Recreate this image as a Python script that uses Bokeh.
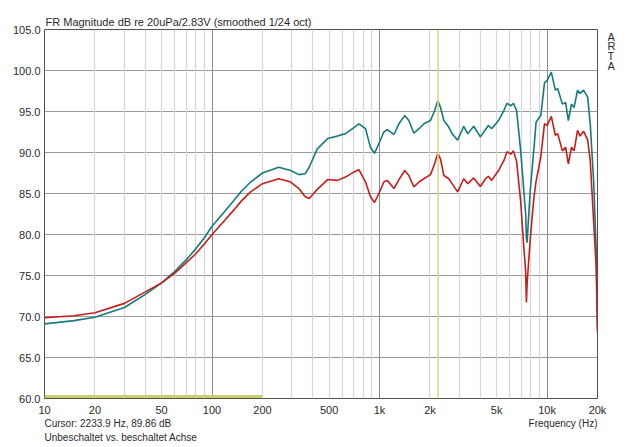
from bokeh.plotting import figure
from bokeh.models import FixedTicker, Grid, Span, NumeralTickFormatter, Range1d
from bokeh.layouts import column, row
from bokeh.core.properties import value
from bokeh.embed import file_html
from bokeh.resources import INLINE

# ---- data ----
freq = [10, 15, 20, 30, 40, 50, 60, 70, 80, 90,
        100, 120, 135, 150, 170, 200, 250, 295, 330, 360,
        380, 425, 490, 560, 626, 700, 753, 825, 883, 933,
        991, 1061, 1110, 1220, 1305, 1414, 1496, 1603, 1720, 1840,
        2015, 2130, 2228, 2312, 2420, 2590, 2710, 2925, 3180, 3360,
        3650, 4000, 4290, 4460, 4670, 5130, 5520, 5770, 6080, 6300,
        6580, 6960, 7260, 7450, 7530, 7600, 7750, 7940, 8350, 8600,
        8930, 9180, 9650, 10020, 10600, 11200, 11570, 12340, 12900, 13400,
        13990, 14500, 15200, 15750, 16500, 17470, 18100, 19000, 19650, 20000]

teal_db = [69.1, 69.5, 69.9, 71.1, 72.7, 74.1, 75.5, 76.9, 78.25, 79.6,
           81.0, 82.9, 84.15, 85.3, 86.4, 87.5, 88.2, 87.8, 87.3, 87.4,
           88.2, 90.45, 91.7, 92.0, 92.3, 93.0, 93.5, 92.9, 90.6, 89.9,
           91.1, 92.5, 92.8, 92.2, 93.5, 94.5, 93.9, 92.35, 92.9, 93.5,
           93.9, 95.1, 96.3, 95.5, 93.9, 93.1, 92.3, 91.5, 93.2, 92.3,
           93.2, 91.9, 92.8, 93.3, 92.9, 93.9, 95.1, 96.0, 95.7, 96.0,
           95.1, 90.2, 85.4, 82.5, 79.5, 79.0, 82.0, 85.4, 90.5, 93.7,
           94.2, 94.5, 98.5, 98.8, 99.8, 97.6, 97.8, 95.9, 96.1, 93.9,
           95.9, 95.5, 97.6, 97.2, 97.6, 96.75, 93.5, 86.2, 78.0, 68.5]

red_db = [69.85, 70.1, 70.45, 71.6, 73.0, 74.1, 75.3, 76.55, 77.65, 78.85,
          80.0, 81.8, 83.0, 84.1, 85.2, 86.2, 86.8, 86.4, 85.6, 84.6,
          84.4, 85.5, 86.7, 86.6, 87.0, 87.6, 87.9, 86.4, 84.6, 83.9,
          85.0, 86.4, 86.6, 85.6, 86.7, 87.8, 87.2, 85.8, 86.4, 86.8,
          87.3, 88.6, 89.9, 89.2, 87.2, 86.8, 86.2, 85.2, 86.8, 86.2,
          86.9, 85.85, 86.8, 87.1, 86.6, 87.8, 89.0, 90.1, 89.8, 90.2,
          88.9, 84.0, 78.5, 75.5, 71.7, 74.0, 76.5, 79.5, 84.55, 86.5,
          88.2, 89.5, 93.5, 93.3, 94.4, 92.1, 92.3, 90.2, 90.65, 88.6,
          90.65, 90.2, 92.7, 92.0, 92.6, 91.55, 89.0, 81.3, 76.0, 68.0]

x_ticks = [10, 20, 50, 100, 200, 500, 1000, 2000, 5000, 10000, 20000]
x_tick_labels = ["10", "20", "50", "100", "200", "500", "1k", "2k", "5k", "10k", "20k"]
decades = [10, 100, 1000, 10000]
y_ticks = [60, 65, 70, 75, 80, 85, 90, 95, 100, 105]

cursor_freq = 2233.9
cursor_db = 89.86
band_freq = [10, 200]
band_db = [60.25, 60.25]

title_text = "FR Magnitude dB re 20uPa/2.83V (smoothed 1/24 oct)"
cursor_text = "Cursor: %.1f Hz, %.2f dB" % (cursor_freq, cursor_db)
note_text = "Unbeschaltet vs. beschaltet Achse"
x_label_text = "Frequency (Hz)"
brand_letters = ["A", "R", "T", "A"]

FONT = "Liberation Sans"
TXT = "#2a2a2a"

MAIN_W, MAIN_H = 607, 418
SIDE_W = 32
BOT_H = 28

# ---------------- main plot ----------------
p = figure(width=MAIN_W, height=MAIN_H, x_axis_type="log",
           x_range=Range1d(10, 20000), y_range=Range1d(60, 105),
           output_backend="svg", toolbar_location=None,
           min_border_left=44, min_border_right=MAIN_W - 44 - 553,
           min_border_top=29, min_border_bottom=MAIN_H - 29 - 369,
           background_fill_color="white", border_fill_color="white")
p.title.text = title_text
p.title.align = "left"
p.title.offset = 1
p.title.standoff = 3
p.title.text_font = FONT
p.title.text_font_size = "11px"
p.title.text_font_style = "normal"
p.title.text_color = TXT
p.outline_line_color = "#505050"
p.outline_line_width = 1

for ax in (p.xaxis[0], p.yaxis[0]):
    ax.axis_line_color = None
    ax.major_tick_line_color = None
    ax.minor_tick_line_color = None
    ax.major_tick_out = 0
    ax.major_tick_in = 0
    ax.minor_tick_out = 0
    ax.major_label_text_font = FONT
    ax.major_label_text_font_size = "11px"
    ax.major_label_text_color = TXT
    ax.major_label_standoff = 5

p.xaxis.ticker = FixedTicker(ticks=x_ticks, minor_ticks=[])
p.xaxis.major_label_overrides = {t: l for t, l in zip(x_ticks, x_tick_labels)}
p.yaxis.ticker = FixedTicker(ticks=y_ticks, minor_ticks=[])
p.yaxis.formatter = NumeralTickFormatter(format="0.0")
p.yaxis.major_label_standoff = 4

minor_x = [d * m for d in decades for m in range(2, 10) if d * m < 20000]
p.xgrid.ticker = FixedTicker(ticks=decades, minor_ticks=[])
p.xgrid.grid_line_color = "#8c8c8c"
p.ygrid.ticker = FixedTicker(ticks=y_ticks, minor_ticks=[])
p.ygrid.grid_line_color = "#9a9a9a"
p.add_layout(Grid(dimension=0, ticker=FixedTicker(ticks=minor_x, minor_ticks=[]),
                  grid_line_color="#d6d6d6", grid_line_width=1.2))

p.add_layout(Span(location=cursor_freq, dimension="height", line_color="#dada80", line_width=1.6))
p.line(band_freq, band_db, line_color="#cccc70", line_width=3)

p.line(freq, teal_db, line_color="#157a7c", line_width=1.6)
p.line(freq, red_db, line_color="#c81c1c", line_width=1.6)


def blank(w, h, xr, yr):
    f = figure(width=w, height=h, x_range=xr, y_range=yr, output_backend="svg",
               toolbar_location=None, x_axis_location=None, y_axis_location=None,
               min_border=0, outline_line_color=None, title=None,
               background_fill_color="white", border_fill_color="white")
    f.xgrid.visible = False
    f.ygrid.visible = False
    return f

# ---------------- "ARTA" side strip ----------------
side = blank(SIDE_W, MAIN_H, Range1d(0, SIDE_W), Range1d(MAIN_H, 0))
side.text(x=[0] * len(brand_letters), y=[8 + 11 * i for i in range(len(brand_letters))],
          text=brand_letters, text_font=value(FONT), text_font_size="11px",
          text_color=TXT, text_align="left", text_baseline="middle")

# ---------------- bottom text strip ----------------
bottom = blank(MAIN_W + SIDE_W, BOT_H, Range1d(0, MAIN_W + SIDE_W), Range1d(BOT_H, 0))
bottom.text(x=[44, 44], y=[5, 19], text=[cursor_text, note_text],
            text_font=value(FONT), text_font_size="10px", text_color=TXT,
            text_align="left", text_baseline="middle")
bottom.text(x=[597], y=[5], text=[x_label_text],
            text_font=value(FONT), text_font_size="10px", text_color=TXT,
            text_align="right", text_baseline="middle")

layout = column(row(p, side, spacing=0), bottom, spacing=0)
open("out.html", "w").write(file_html(layout, INLINE))
